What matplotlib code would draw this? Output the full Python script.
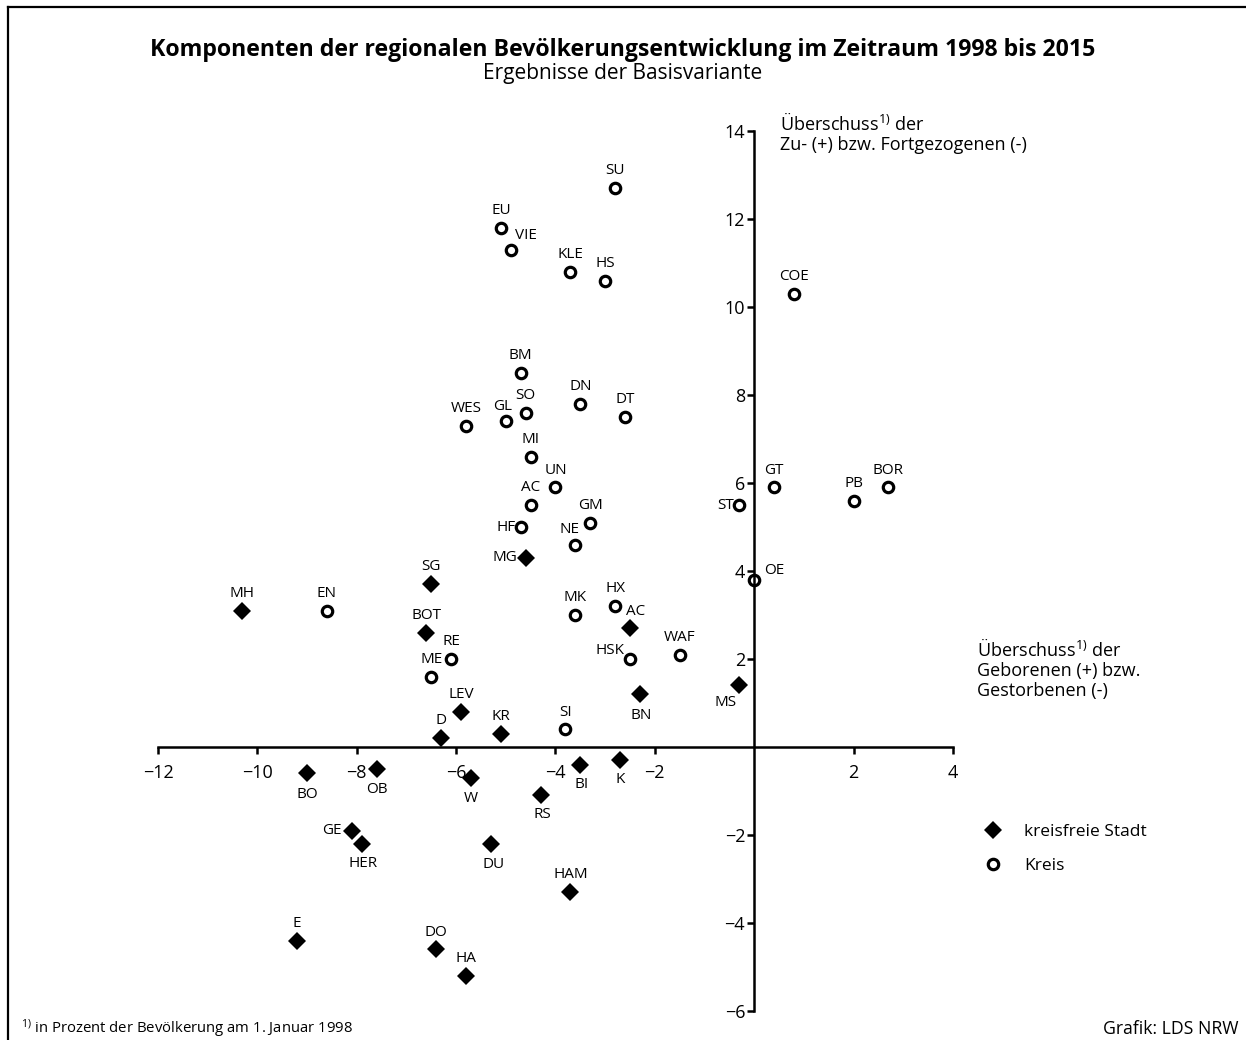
import matplotlib
matplotlib.use("Agg")
import matplotlib.pyplot as plt
from matplotlib.lines import Line2D

plt.rcParams['font.family'] = ['Open Sans', 'DejaVu Sans']
plt.rcParams['mathtext.fontset'] = 'custom'
plt.rcParams['mathtext.rm'] = 'Open Sans'
plt.rcParams['mathtext.it'] = 'Open Sans'
plt.rcParams['mathtext.bf'] = 'Open Sans:bold'

# kreisfreie Staedte (Raute)
stadt_names = ['MH', 'SG', 'BOT', 'MG', 'AC', 'BN', 'MS', 'LEV', 'D', 'KR',
               'BO', 'OB', 'W', 'RS', 'BI', 'K', 'GE', 'HER', 'DU', 'HAM',
               'E', 'DO', 'HA']
stadt_x = [-10.3, -6.5, -6.6, -4.6, -2.5, -2.3, -0.3, -5.9, -6.3, -5.1,
           -9.0, -7.6, -5.7, -4.3, -3.5, -2.7, -8.1, -7.9, -5.3, -3.7,
           -9.2, -6.4, -5.8]
stadt_y = [3.1, 3.7, 2.6, 4.3, 2.7, 1.2, 1.4, 0.8, 0.2, 0.3,
           -0.6, -0.5, -0.7, -1.1, -0.4, -0.3, -1.9, -2.2, -2.2, -3.3,
           -4.4, -4.6, -5.2]

# Kreise (Kreis)
kreis_names = ['SU', 'EU', 'VIE', 'KLE', 'HS', 'COE', 'BM', 'DN', 'DT', 'SO',
               'GL', 'WES', 'MI', 'UN', 'AC', 'GM', 'HF', 'NE', 'GT', 'ST',
               'PB', 'BOR', 'OE', 'EN', 'MK', 'HX', 'HSK', 'WAF', 'RE', 'ME',
               'SI']
kreis_x = [-2.8, -5.1, -4.9, -3.7, -3.0, 0.8, -4.7, -3.5, -2.6, -4.6,
           -5.0, -5.8, -4.5, -4.0, -4.5, -3.3, -4.7, -3.6, 0.4, -0.3,
           2.0, 2.7, 0.0, -8.6, -3.6, -2.8, -2.5, -1.5, -6.1, -6.5,
           -3.8]
kreis_y = [12.7, 11.8, 11.3, 10.8, 10.6, 10.3, 8.5, 7.8, 7.5, 7.6,
           7.4, 7.3, 6.6, 5.9, 5.5, 5.1, 5.0, 4.6, 5.9, 5.5,
           5.6, 5.9, 3.8, 3.1, 3.0, 3.2, 2.0, 2.1, 2.0, 1.6,
           0.4]

x_ticks = [-12, -10, -8, -6, -4, -2, 2, 4]
y_ticks = [-6, -4, -2, 2, 4, 6, 8, 10, 12, 14]

# label placement (offset in points, horizontal alignment); default: above
above = ((0, 12.5), 'center')
place = {
    ('s', 'BO'): ((0, -15), 'center'), ('s', 'OB'): ((0, -15), 'center'),
    ('s', 'W'): ((0, -15), 'center'), ('s', 'RS'): ((1, -14), 'center'),
    ('s', 'BI'): ((1, -14), 'center'), ('s', 'K'): ((0, -14), 'center'),
    ('s', 'HER'): ((1, -14), 'center'), ('s', 'DU'): ((2, -15), 'center'),
    ('s', 'BN'): ((1, -15), 'center'), ('s', 'MS'): ((-10, -12), 'center'),
    ('s', 'MG'): ((-6, 0), 'right'), ('s', 'GE'): ((-7, 0), 'right'),
    ('s', 'AC'): ((4, 12), 'center'),
    ('k', 'HF'): ((-4, 0), 'right'), ('k', 'ST'): ((-4, 0), 'right'),
    ('k', 'HSK'): ((-4, 6), 'right'), ('k', 'OE'): ((7, 7), 'left'),
    ('k', 'VIE'): ((11, 10), 'center'), ('k', 'NE'): ((-4, 11), 'center'),
    ('k', 'GL'): ((-2, 11), 'center'),
}

fig = plt.figure(figsize=(12.46, 10.4), dpi=100)
ax = fig.add_axes([0.1268, 0.0279, 0.638, 0.8461])

ax.plot(stadt_x, stadt_y, linestyle='none', marker='D', markersize=9.5,
        color='black', markeredgewidth=0)
ax.plot(kreis_x, kreis_y, linestyle='none', marker='o', markersize=7.5,
        markerfacecolor='white', markeredgecolor='black', markeredgewidth=2.3)

for kind, names, xs, ys in [('s', stadt_names, stadt_x, stadt_y),
                            ('k', kreis_names, kreis_x, kreis_y)]:
    for n, x, y in zip(names, xs, ys):
        off, ha = place.get((kind, n), above)
        ax.annotate(n, (x, y), xytext=off, textcoords='offset points',
                    ha=ha, va='center', fontsize=11)

ax.set_xlim(-12, 4)
ax.set_ylim(-6, 14)
for s in ['top', 'right']:
    ax.spines[s].set_visible(False)
ax.spines['left'].set_position(('data', 0))
ax.spines['bottom'].set_position(('data', 0))
ax.spines['left'].set_linewidth(1.8)
ax.spines['bottom'].set_linewidth(1.8)
ax.set_xticks(x_ticks)
ax.set_yticks(y_ticks)
ax.set_xticklabels([str(t).replace('-', '\u2212') for t in x_ticks])
ax.set_yticklabels([str(t).replace('-', '\u2212') for t in y_ticks])
ax.tick_params(direction='out', length=5, width=1.8, labelsize=13)
ax.tick_params(axis='x', pad=7)
ax.tick_params(axis='y', pad=1.5)
ax.patch.set_visible(False)

# axis titles
ax.text(0.52, 13.95, 'Überschuss$^{1)}$ der\nZu- (+) bzw. Fortgezogenen (-)',
        fontsize=13, ha='left', va='center', linespacing=1.12)
fig.text(0.784, 0.357, 'Überschuss$^{1)}$ der\nGeborenen (+) bzw.\nGestorbenen (-)',
         fontsize=13, ha='left', va='center', linespacing=1.14)

# legend
handles = [Line2D([], [], linestyle='none', marker='D', markersize=9.5,
                  color='black', markeredgewidth=0),
           Line2D([], [], linestyle='none', marker='o', markersize=7.5,
                  markerfacecolor='white', markeredgecolor='black',
                  markeredgewidth=2.3)]
fig.legend(handles, ['kreisfreie Stadt', 'Kreis'], loc='upper left',
           bbox_to_anchor=(0.7705, 0.223), frameon=False, fontsize=12.5,
           handletextpad=0.8, labelspacing=1.05)

# titles and notes
fig.text(0.5, 0.952, 'Komponenten der regionalen Bevölkerungsentwicklung im Zeitraum 1998 bis 2015',
         ha='center', va='center', fontsize=16.7, fontweight='bold')
fig.text(0.5, 0.929, 'Ergebnisse der Basisvariante', ha='center', va='center', fontsize=15)
fig.text(0.017, 0.0105, '$^{1)}$ in Prozent der Bevölkerung am 1. Januar 1998',
         ha='left', va='center', fontsize=10.7)
fig.text(0.994, 0.0105, 'Grafik: LDS NRW', ha='right', va='center', fontsize=12.7)

# frame lines (top and left)
fig.add_artist(Line2D([0.0065, 1.0], [0.993, 0.993], color='black', lw=1.6))
fig.add_artist(Line2D([0.0065, 0.0065], [0.0, 0.993], color='black', lw=1.6))

fig.savefig('out.png', dpi=100)
